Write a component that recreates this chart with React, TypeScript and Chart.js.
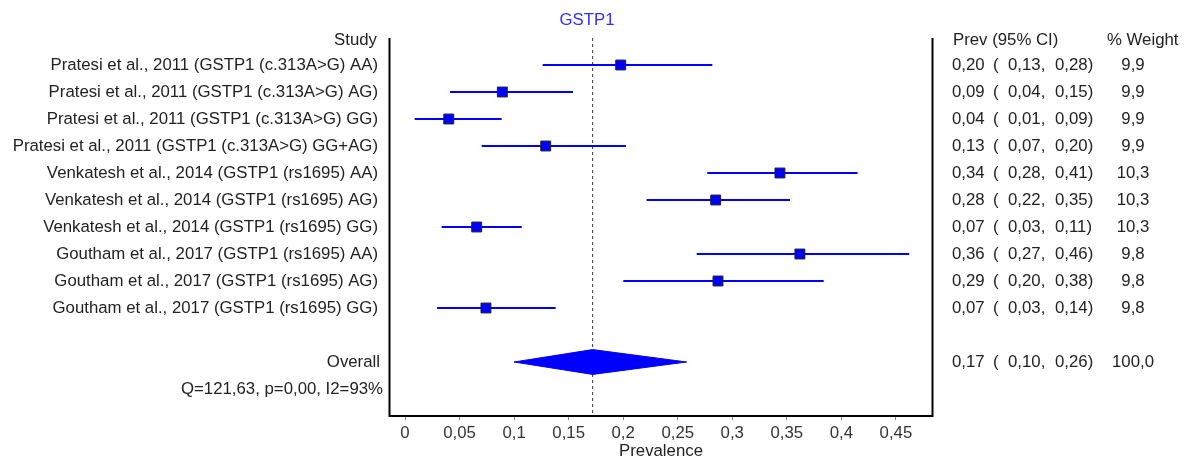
import React, { useEffect, useRef } from 'react';
import { Chart, registerables } from 'chart.js';

Chart.register(...registerables);

// ---------------- data ----------------
const STUDIES = [
  'Pratesi et al., 2011 (GSTP1 (c.313A>G) AA)',
  'Pratesi et al., 2011 (GSTP1 (c.313A>G) AG)',
  'Pratesi et al., 2011 (GSTP1 (c.313A>G) GG)',
  'Pratesi et al., 2011 (GSTP1 (c.313A>G) GG+AG)',
  'Venkatesh et al., 2014 (GSTP1 (rs1695) AA)',
  'Venkatesh et al., 2014 (GSTP1 (rs1695) AG)',
  'Venkatesh et al., 2014 (GSTP1 (rs1695) GG)',
  'Goutham et al., 2017 (GSTP1 (rs1695) AA)',
  'Goutham et al., 2017 (GSTP1 (rs1695) AG)',
  'Goutham et al., 2017 (GSTP1 (rs1695) GG)',
];
const PREV = [0.1977, 0.0892, 0.0401, 0.129, 0.3437, 0.2848, 0.0657, 0.362, 0.2869, 0.0742];
const CI_LO = [0.1262, 0.0412, 0.0089, 0.0703, 0.2771, 0.2215, 0.0336, 0.2674, 0.2001, 0.0293];
const CI_HI = [0.2817, 0.154, 0.0886, 0.2026, 0.4149, 0.3529, 0.107, 0.4622, 0.3838, 0.1381];
const PREV_TXT = ['0,20', '0,09', '0,04', '0,13', '0,34', '0,28', '0,07', '0,36', '0,29', '0,07'];
const LO_TXT = ['0,13,', '0,04,', '0,01,', '0,07,', '0,28,', '0,22,', '0,03,', '0,27,', '0,20,', '0,03,'];
const HI_TXT = ['0,28)', '0,15)', '0,09)', '0,20)', '0,41)', '0,35)', '0,11)', '0,46)', '0,38)', '0,14)'];
const WEIGHT_TXT = ['9,9', '9,9', '9,9', '9,9', '10,3', '10,3', '10,3', '9,8', '9,8', '9,8'];

const OVERALL = 0.172;
const OVERALL_LO = 0.0999;
const OVERALL_HI = 0.2582;
const OVERALL_LABEL = 'Overall';
const OVERALL_TXT = ['0,17', '0,10,', '0,26)', '100,0'];
const HET_TXT = 'Q=121,63, p=0,00, I2=93%';

const X_TICKS = [0, 0.05, 0.1, 0.15, 0.2, 0.25, 0.3, 0.35, 0.4, 0.45];
const TITLE = 'GSTP1';
const X_TITLE = 'Prevalence';
const HEAD_STUDY = 'Study';
const HEAD_CI = 'Prev (95% CI)';
const HEAD_W = '% Weight';

// ---------------- layout ----------------
const FONT = "'Liberation Sans', Arial, sans-serif";
const FS = 16.8;
const OVERALL_ROW = 12;
const HET_ROW = 13;
const Y_MAX = 13.963;
const DIAMOND_H = 0.46;
const TEXT_COLOR = '#222';
const BLUE = '#0000ff';

const textPlugin = {
  id: 'forestText',
  afterDraw(chart: any) {
    const ctx = chart.ctx;
    const y = chart.scales.y;
    ctx.save();
    ctx.font = `${FS}px ${FONT}`;
    ctx.textBaseline = 'middle';
    ctx.fillStyle = TEXT_COLOR;

    // headers
    const hy = y.getPixelForValue(0.08);
    ctx.textAlign = 'right';
    ctx.fillText(HEAD_STUDY, 377, hy);
    ctx.textAlign = 'left';
    ctx.fillText(HEAD_CI, 953, hy);
    ctx.fillText(HEAD_W, 1107, hy);

    // rows
    STUDIES.forEach((s, i) => {
      const py = y.getPixelForValue(i + 1);
      ctx.textAlign = 'right';
      ctx.fillText(s, 378, py);
      ctx.textAlign = 'left';
      ctx.fillText(PREV_TXT[i], 952, py);
      ctx.fillText('(', 993, py);
      ctx.fillText(LO_TXT[i], 1008, py);
      ctx.fillText(HI_TXT[i], 1055, py);
      ctx.textAlign = 'center';
      ctx.fillText(WEIGHT_TXT[i], 1133, py);
    });

    const oy = y.getPixelForValue(OVERALL_ROW);
    ctx.textAlign = 'right';
    ctx.fillText(OVERALL_LABEL, 380, oy);
    ctx.textAlign = 'left';
    ctx.fillText(OVERALL_TXT[0], 952, oy);
    ctx.fillText('(', 993, oy);
    ctx.fillText(OVERALL_TXT[1], 1008, oy);
    ctx.fillText(OVERALL_TXT[2], 1055, oy);
    ctx.textAlign = 'center';
    ctx.fillText(OVERALL_TXT[3], 1133, oy);

    const qy = y.getPixelForValue(HET_ROW);
    ctx.textAlign = 'right';
    ctx.fillText(HET_TXT, 383, qy);

    // title
    ctx.fillStyle = '#3030ff';
    ctx.textAlign = 'center';
    ctx.fillText(TITLE, 587, 20);
    ctx.restore();
  },
};

const borderPlugin = {
  id: 'forestBorder',
  afterDatasetsDraw(chart: any) {
    const { ctx, chartArea } = chart;
    ctx.save();
    ctx.strokeStyle = '#000';
    ctx.lineWidth = 2;
    ctx.beginPath();
    ctx.moveTo(chartArea.left + 0.5, chartArea.top);
    ctx.lineTo(chartArea.left + 0.5, chartArea.bottom + 1);
    ctx.lineTo(chartArea.right - 0.5, chartArea.bottom + 1);
    ctx.lineTo(chartArea.right - 0.5, chartArea.top);
    ctx.stroke();
    ctx.restore();
  },
};

export default function App() {
  const ref = useRef<HTMLCanvasElement | null>(null);

  useEffect(() => {
    if (!ref.current) return;
    const ciSets = STUDIES.map((_, i) => ({
      type: 'line',
      data: [
        { x: CI_LO[i], y: i + 1 },
        { x: CI_HI[i], y: i + 1 },
      ],
      borderColor: BLUE,
      borderWidth: 2,
      pointRadius: 0,
      fill: false,
    }));
    const chart = new Chart(ref.current, {
      type: 'line',
      data: {
        datasets: [
          {
            type: 'line',
            data: PREV.map((p, i) => ({ x: p, y: i + 1 })),
            showLine: false,
            pointStyle: 'rect',
            pointRadius: 7,
            backgroundColor: BLUE,
            borderColor: '#222',
            borderWidth: 1,
          },
          {
            type: 'line',
            data: [
              { x: OVERALL_LO, y: OVERALL_ROW },
              { x: OVERALL, y: OVERALL_ROW - DIAMOND_H },
              { x: OVERALL_HI, y: OVERALL_ROW },
            ],
            fill: { target: { value: OVERALL_ROW } },
            backgroundColor: BLUE,
            borderColor: BLUE,
            borderWidth: 1,
            pointRadius: 0,
            tension: 0,
          },
          {
            type: 'line',
            data: [
              { x: OVERALL_LO, y: OVERALL_ROW },
              { x: OVERALL, y: OVERALL_ROW + DIAMOND_H },
              { x: OVERALL_HI, y: OVERALL_ROW },
            ],
            fill: { target: { value: OVERALL_ROW } },
            backgroundColor: BLUE,
            borderColor: BLUE,
            borderWidth: 1,
            pointRadius: 0,
            tension: 0,
          },
          ...ciSets,
          {
            type: 'line',
            data: [
              { x: OVERALL, y: 0 },
              { x: OVERALL, y: Y_MAX },
            ],
            borderColor: '#333',
            borderWidth: 1,
            borderDash: [3, 3],
            pointRadius: 0,
            fill: false,
          },
        ] as any,
      },
      options: {
        animation: false,
        responsive: false,
        devicePixelRatio: 1,
        events: [],
        layout: { padding: { left: 389, right: 261, top: 38, bottom: 0 } },
        plugins: {
          legend: { display: false },
          tooltip: { enabled: false },
          title: { display: false },
        },
        scales: {
          x: {
            type: 'linear',
            min: -0.01467,
            max: 0.484,
            afterBuildTicks: (s: any) => {
              s.ticks = X_TICKS.map((v) => ({ value: v }));
            },
            afterFit: (s: any) => {
              s.height = 46;
            },
            ticks: {
              callback: (v: any) => String(v).replace('.', ','),
              font: { family: FONT, size: FS },
              color: '#333',
              padding: 3,
              maxRotation: 0,
              autoSkip: false,
            },
            grid: {
              display: true,
              drawOnChartArea: false,
              drawTicks: true,
              tickLength: 5,
              color: '#888',
            },
            border: { display: false },
            title: {
              display: true,
              text: X_TITLE,
              font: { family: FONT, size: FS },
              color: TEXT_COLOR,
              padding: 0,
            },
          },
          y: {
            type: 'linear',
            min: 0,
            max: Y_MAX,
            reverse: true,
            display: false,
          },
        },
      } as any,
      plugins: [textPlugin, borderPlugin],
    });
    return () => chart.destroy();
  }, []);

  return (
    <div style={{ position: 'absolute', left: 0, top: 0, width: 1194, height: 461, background: '#fff' }}>
      <canvas ref={ref} width={1194} height={461} style={{ width: 1194, height: 461, display: 'block' }} />
    </div>
  );
}
